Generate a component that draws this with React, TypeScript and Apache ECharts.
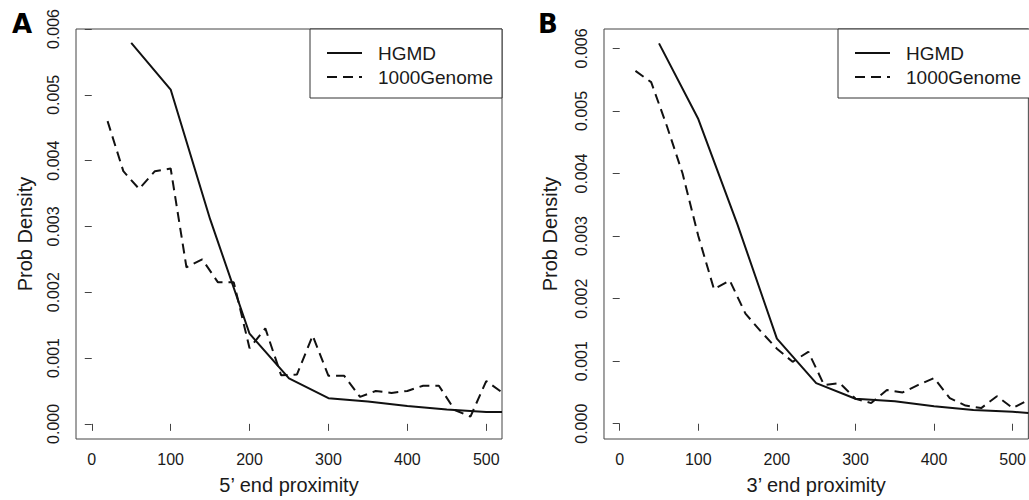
import React, { useEffect, useRef } from "react";
import * as echarts from "echarts";

const xTicks = [0, 100, 200, 300, 400, 500];
const yTicks = [0, 0.001, 0.002, 0.003, 0.004, 0.005, 0.006];
const legendNames = ["HGMD", "1000Genome"];

const hgmdX5 = [50, 100, 150, 200, 250, 300, 350, 400, 450, 500, 520];
const hgmdY5 = [0.00579, 0.00508, 0.00311, 0.00137, 0.00069, 0.00039, 0.00034, 0.00027, 0.00022, 0.00018, 0.00018];
const kgX5 = [20, 40, 60, 80, 100, 120, 140, 160, 180, 200, 220, 240, 260, 280, 300, 320, 340, 360, 380, 400, 420, 440, 460, 480, 500, 520];
const kgY5 = [0.0046, 0.00384, 0.00357, 0.00384, 0.00388, 0.00238, 0.0025, 0.00215, 0.00215, 0.00115, 0.00145, 0.00074, 0.00075, 0.00134, 0.00073, 0.00073, 0.00041, 0.0005, 0.00047, 0.0005, 0.00058, 0.00058, 0.00021, 0.00011, 0.00065, 0.00048];

const hgmdX3 = [50, 100, 150, 200, 250, 300, 350, 400, 450, 500, 520];
const hgmdY3 = [0.00608, 0.00487, 0.00318, 0.00136, 0.00065, 0.0004, 0.00036, 0.00028, 0.00022, 0.00019, 0.00017];
const kgX3 = [20, 40, 60, 80, 100, 120, 140, 160, 180, 200, 220, 240, 260, 280, 300, 320, 340, 360, 380, 400, 420, 440, 460, 480, 500, 520];
const kgY3 = [0.00564, 0.00546, 0.00476, 0.004, 0.003, 0.00215, 0.00229, 0.00176, 0.00147, 0.0012, 0.00099, 0.00115, 0.00062, 0.00065, 0.0004, 0.00033, 0.00054, 0.0005, 0.00062, 0.00073, 0.00041, 0.00029, 0.00025, 0.00044, 0.00025, 0.00038];

const FONT = '"Liberation Sans", Arial, Helvetica, sans-serif';
const INK = "#1a1a1a";
const DASH = [10, 6];

const pairs = (xs: number[], ys: number[]) => xs.map((x, i) => [x, ys[i]]);

function xAxisCfg(idx: number, name: string) {
  return {
    type: "value",
    gridIndex: idx,
    min: -20,
    max: 520,
    name,
    nameLocation: "middle",
    nameGap: 36,
    nameTextStyle: { fontFamily: FONT, fontSize: 20, color: INK },
    axisLine: { show: false },
    splitLine: { show: false },
    axisTick: { show: true, length: 7, customValues: xTicks, lineStyle: { color: "#444", width: 1 } },
    axisLabel: { customValues: xTicks, margin: 12, fontFamily: FONT, fontSize: 16, color: INK },
  };
}

function yAxisCfg(idx: number, min: number, max: number, gap: number) {
  return {
    type: "value",
    gridIndex: idx,
    min,
    max,
    name: "Prob Density",
    nameLocation: "middle",
    nameGap: gap,
    nameRotate: 90,
    nameTextStyle: { fontFamily: FONT, fontSize: 20, color: INK },
    axisLine: { show: false },
    splitLine: { show: false },
    axisTick: { show: true, length: 7, customValues: yTicks, lineStyle: { color: "#444", width: 1 } },
    axisLabel: {
      customValues: yTicks,
      rotate: 90,
      margin: 15,
      fontFamily: FONT,
      fontSize: 16,
      color: INK,
      formatter: (v: number) => v.toFixed(3),
    },
  };
}

function legendGraphic(left: number, width: number) {
  const top = 29;
  const rows = [53, 77];
  const els: any[] = [
    { type: "rect", shape: { x: left, y: top, width, height: 69 }, style: { fill: "#fff", stroke: "#333", lineWidth: 1 }, z: 10 },
  ];
  legendNames.forEach((n, i) => {
    els.push({
      type: "line",
      shape: { x1: left + 17, y1: rows[i], x2: left + 52, y2: rows[i] },
      style: { stroke: "#111", lineWidth: 2, lineDash: i === 0 ? null : DASH },
      z: 11,
    });
    els.push({
      type: "text",
      x: left + 68,
      y: rows[i],
      style: { text: n, fontFamily: FONT, fontSize: 19, fill: INK, verticalAlign: "middle", align: "left" },
      z: 11,
    });
  });
  return els;
}

export default function App() {
  const ref = useRef<HTMLDivElement>(null);
  useEffect(() => {
    if (!ref.current) return;
    const chart = echarts.init(ref.current, null, { renderer: "svg" });
    const solid = { color: "#111", width: 2, type: "solid" };
    const dashed = { color: "#111", width: 2, type: DASH };
    chart.setOption({
      animation: false,
      backgroundColor: "#fff",
      grid: [
        { left: 76, top: 29, width: 426, height: 412, show: true, borderColor: "#444", borderWidth: 1, backgroundColor: "transparent" },
        { left: 604, top: 29, width: 427, height: 412, show: true, borderColor: "#444", borderWidth: 1, backgroundColor: "transparent" },
      ],
      xAxis: [xAxisCfg(0, "5\u2019 end proximity"), xAxisCfg(1, "3\u2019 end proximity")],
      yAxis: [yAxisCfg(0, -0.00023, 0.006, 41), yAxisCfg(1, -0.000244, 0.00631, 44)],
      series: [
        { name: "HGMD", type: "line", xAxisIndex: 0, yAxisIndex: 0, data: pairs(hgmdX5, hgmdY5), symbol: "none", lineStyle: solid },
        { name: "1000Genome", type: "line", xAxisIndex: 0, yAxisIndex: 0, data: pairs(kgX5, kgY5), symbol: "none", lineStyle: dashed },
        { name: "HGMD", type: "line", xAxisIndex: 1, yAxisIndex: 1, data: pairs(hgmdX3, hgmdY3), symbol: "none", lineStyle: solid },
        { name: "1000Genome", type: "line", xAxisIndex: 1, yAxisIndex: 1, data: pairs(kgX3, kgY3), symbol: "none", lineStyle: dashed },
      ],
      graphic: [
        ...legendGraphic(310, 192),
        ...legendGraphic(838, 200),
        { type: "text", left: 12, top: 11, style: { text: "A", fontFamily: '"DejaVu Sans", sans-serif', fontWeight: "bold", fontSize: 26, fill: "#000" } },
        { type: "text", left: 538, top: 11, style: { text: "B", fontFamily: '"DejaVu Sans", sans-serif', fontWeight: "bold", fontSize: 26, fill: "#000" } },
      ],
    });
    return () => chart.dispose();
  }, []);
  return (
    <div
      ref={ref}
      style={{ position: "fixed", left: 0, top: 0, width: 1029, height: 500, background: "#fff" }}
    />
  );
}
